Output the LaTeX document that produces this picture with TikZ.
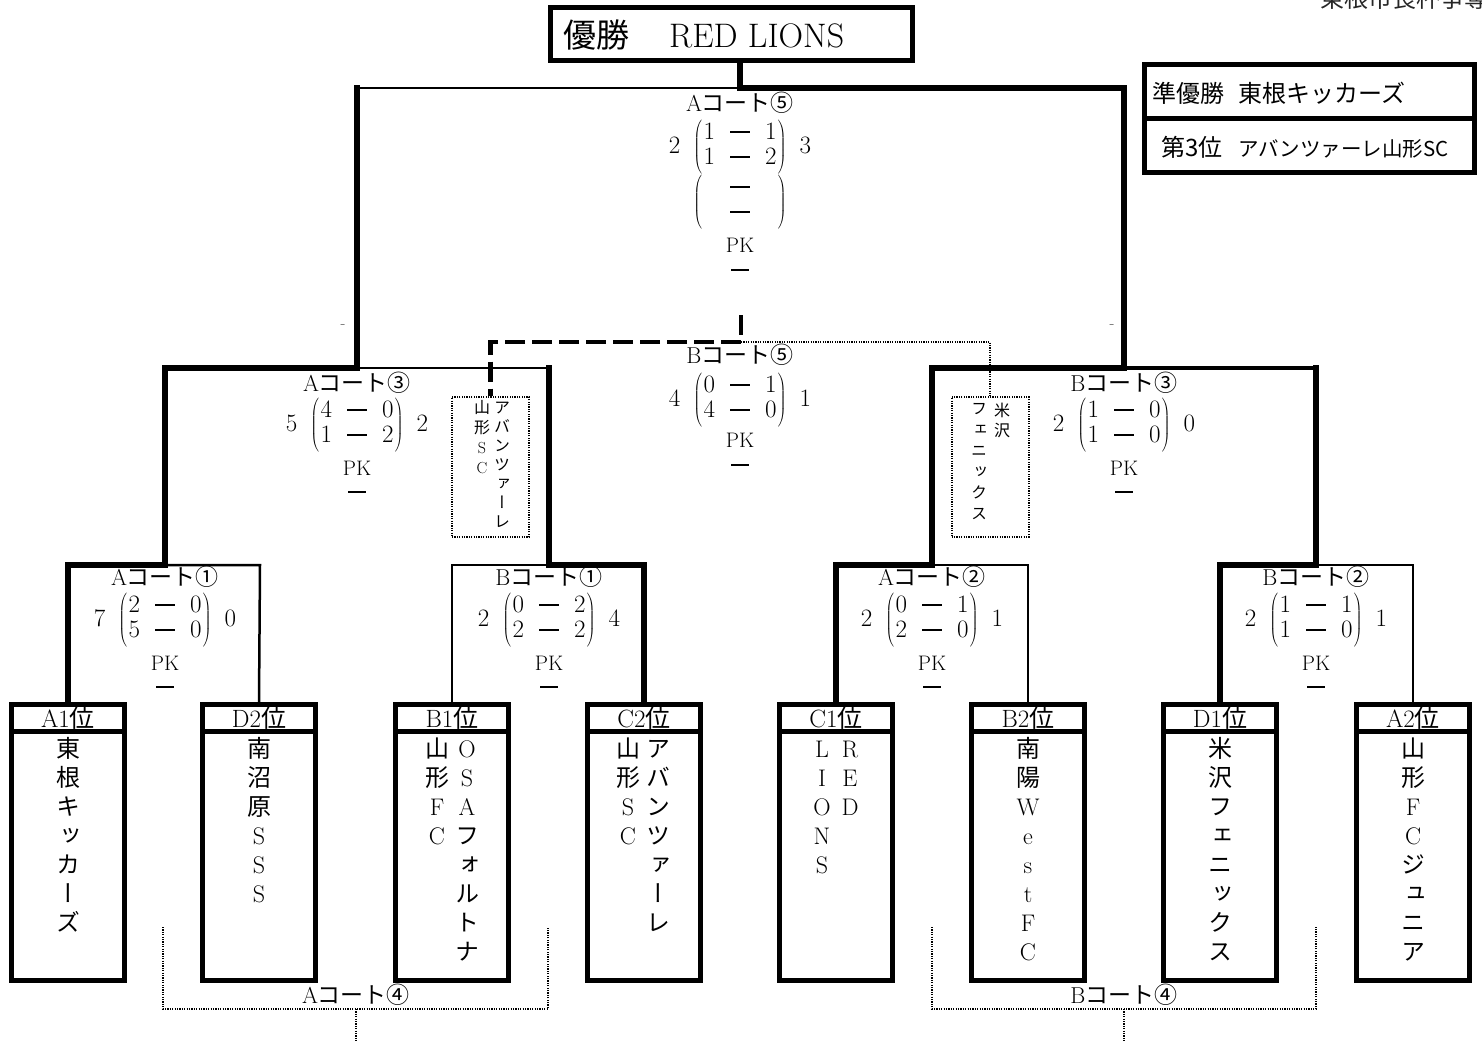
\RequirePackage{fix-cm}
\documentclass[tikz,border=0pt]{standalone}
\usepackage{fontspec}
\newfontfamily\jp{Noto Sans CJK JP}
\newfontfamily\jpv{Noto Sans CJK JP}[RawFeature=+vert]
\newcommand\lat[1]{{\rmfamily #1}}
\newcommand\dsh{\mbox{\rule[7pt]{20pt}{1.5pt}}}
\newcommand\mtx[4]{\left(\vcenter{\hbox{\rule{0pt}{54pt}}}\begin{array}{@{\hspace{1.5pt}}c@{\hspace{15pt}}c@{\hspace{15pt}}c@{\hspace{1.5pt}}}\mbox{#1}&\dsh&\mbox{#2}\\\mbox{#3}&\dsh&\mbox{#4}\end{array}\right)}
\newcommand\scoreline[6]{#1\hspace{13pt}$\mtx{#2}{#3}{#4}{#5}$\hspace{13pt}#6}
\newcommand\vcol[6]{% name, x, first baseline, step, style, list
  \foreach \ch [count=\ii] in {#6} {\node[#5,name=#1-\ii] at (#2,{#3+#4*(\ii-1)}) {\ch};}}
\tikzset{
  lnwin/.style={line width=6.5pt,line cap=rect},
  lnlose/.style={line width=2.5pt},
  lnmid/.style={line width=4.5pt},
  teamhead/.style={draw,line width=5pt,minimum width=113pt,minimum height=27pt,inner sep=0pt,font=\fontsize{25}{25}\selectfont},
  teambody/.style={draw,line width=5pt,minimum width=113pt,minimum height=249pt,inner sep=0pt},
  vch/.style={anchor=base,inner sep=0pt,font=\jpv\fontsize{24}{24}\selectfont},
  vchs/.style={anchor=base,inner sep=0pt,font=\jpv\fontsize{16}{16}\selectfont},
  court/.style={inner sep=0pt,font=\fontsize{23}{23}\selectfont},
  scorebox/.style={inner sep=0pt,font=\fontsize{25}{25}\selectfont},
  pk/.style={inner sep=0pt,font=\fontsize{21}{21}\selectfont},
  dotln/.style={line width=2pt,dash pattern=on 1.2pt off 1.2pt},
  thirdln/.style={line width=4.5pt,dash pattern=on 20pt off 7pt},
  dotbox/.style={draw,dotln,minimum width=77pt,minimum height=140pt,inner sep=0pt},
  framebox/.style={draw,line width=5pt,inner sep=0pt},
}
\newcommand\pkdash{\rule{18pt}{1.5pt}}
\begin{document}
\begin{tikzpicture}[x=1pt,y=-1pt]
\useasboundingbox (0,0) rectangle (1482,1041);

% cut-off heading at the top right
\node[anchor=base west,inner sep=0pt,font=\jp\fontsize{24}{24}\selectfont,text=black!85] (head) at (1320,8) {東根市長杯争奪戦};

% champion
\node[framebox,minimum width=362pt,minimum height=53pt] (champ) at (731,34.5) {};
\node[anchor=west,inner sep=0pt] (champtxt) at (563,35) {{\jp\fontsize{33}{33}\selectfont 優勝}\hspace{40pt}{\fontsize{34}{34}\selectfont RED LIONS}};

% runner-up / third
\node[framebox,minimum width=330pt,minimum height=53.5pt] (ru) at (1309.5,91.25) {};
\node[framebox,minimum width=330pt,minimum height=54.5pt] (third) at (1309.5,145.25) {};
\node[anchor=west,inner sep=0pt,font=\jp\fontsize{24}{24}\selectfont] (rutxt) at (1152,93) {準優勝\hspace{14pt}東根キッカーズ};
\node[anchor=west,inner sep=0pt,font=\jp\fontsize{24}{24}\selectfont] (thtxt) at (1161,147) {第3位\hspace{16pt}{\fontsize{20.5}{21}\selectfont アバンツァーレ山形SC}};

% team boxes
\foreach \nm/\x/\lab in {A1/68/A1, D2/259/D2, B1/452/B1, C2/644/C2, C1/836/C1, B2/1028/B2, D1/1220/D1, A2/1413/A2}{
  \node[teamhead] (h\nm) at (\x,718) {\lab{\jp 位}};
  \node[teambody] (b\nm) at (\x,856) {};
}
\vcol{tA1}{68}{757}{29}{vch}{東,根,キ,ッ,カ,ー,ズ}
\vcol{tD2}{259}{757}{29}{vch}{南,沼,原,\lat{S},\lat{S},\lat{S}}
\vcol{tB1l}{437}{757}{29}{vch}{山,形,\lat{F},\lat{C}}
\vcol{tB1r}{467}{757}{29}{vch}{\lat{O},\lat{S},\lat{A},フ,ォ,ル,ト,ナ}
\vcol{tC2l}{628}{757}{29}{vch}{山,形,\lat{S},\lat{C}}
\vcol{tC2r}{658}{757}{29}{vch}{ア,バ,ン,ツ,ァ,ー,レ}
\vcol{tC1l}{822}{757}{29}{vch}{\lat{L},\lat{I},\lat{O},\lat{N},\lat{S}}
\vcol{tC1r}{850}{757}{29}{vch}{\lat{R},\lat{E},\lat{D}}
\vcol{tB2}{1028}{757}{29}{vch}{南,陽,\lat{W},\lat{e},\lat{s},\lat{t},\lat{F},\lat{C}}
\vcol{tD1}{1220}{757}{29}{vch}{米,沢,フ,ェ,ニ,ッ,ク,ス}
\vcol{tA2}{1413}{757}{29}{vch}{山,形,\lat{F},\lat{C},ジ,ュ,ニ,ア}

% loser boxes for 3rd place
\node[dotbox] (lbox) at (490.5,467) {};
\node[dotbox] (rbox) at (990,467) {};
\vcol{lbr}{502}{413}{19}{vchs}{ア,バ,ン,ツ,ァ,ー,レ}
\vcol{lbl}{482}{413}{20}{vchs}{山,形,\lat{S},\lat{C}}
\vcol{rbr}{1002}{416}{20}{vchs}{米,沢}
\vcol{rbl}{979}{414}{21}{vchs}{フ,ェ,ニ,ッ,ク,ス}

% junction coordinates
\coordinate (stem) at (740,61);
\coordinate (f) at (740,88);
\coordinate (fL) at (357,88);
\coordinate (fR) at (1124,88);
\coordinate (sL) at (357,368);
\coordinate (sLa) at (165,368);
\coordinate (sLb) at (549,368);
\coordinate (sR) at (1124,368);
\coordinate (sRa) at (932,368);
\coordinate (sRb) at (1316,368);
\coordinate (q1) at (165,565);
\coordinate (q1a) at (68,565);
\coordinate (q1b) at (260,565);
\coordinate (q2) at (549,565);
\coordinate (q2a) at (452,565);
\coordinate (q2b) at (644,565);
\coordinate (q3) at (932,565);
\coordinate (q3a) at (836,565);
\coordinate (q3b) at (1028,565);
\coordinate (q4) at (1316,565);
\coordinate (q4a) at (1220,565);
\coordinate (q4b) at (1413,565);

% bracket lines
\draw[lnlose] (f) -- (fL);
\draw[lnwin] (stem) -- (f) -- (fR) -- (sR);
\draw[lnwin] (fL) -- (sL);
\draw[lnlose] (sL) -- (sLb);
\draw[lnwin] (sL) -- (sLa) -- (q1);
\draw[lnwin] (sLb) -- (q2);
\draw[lnlose] (q1) -- (q1b) -- (hD2.north);
\draw[lnwin] (q1) -- (q1a) -- (hA1.north);
\draw[lnlose] (q2) -- (q2a) -- (hB1.north);
\draw[lnwin] (q2) -- (q2b) -- (hC2.north);
\draw[lnmid] (sR) -- (sRb);
\draw[lnwin] (sR) -- (sRa) -- (q3);
\draw[lnwin] (sRb) -- (q4);
\draw[lnlose] (q3) -- (q3b) -- (hB2.north);
\draw[lnwin] (q3) -- (q3a) -- (hC1.north);
\draw[lnlose] (q4) -- (q4b) -- (hA2.north);
\draw[lnwin] (q4) -- (q4a) -- (hD1.north);

% third place connectors
\coordinate (tp) at (741,315);
\coordinate (tpc) at (741,342);
\coordinate (tpl) at (490.5,342);
\coordinate (tpr) at (990,342);
\draw[dotln] (tpc) -- (tpr) -- (rbox.north);
\draw[thirdln] (tp) -- (tpc) -- (tpl) -- (lbox.north);

% court 4 brackets
\coordinate (a4l) at (163,927);
\coordinate (a4lb) at (163,1009);
\coordinate (a4rb) at (548,1009);
\coordinate (a4r) at (548,927);
\coordinate (a4m) at (356,1009);
\coordinate (a4s) at (356,1041);
\draw[dotln] (a4l) -- (a4lb) -- (a4rb) -- (a4r);
\draw[dotln] (a4m) -- (a4s);
\coordinate (b4l) at (932,927);
\coordinate (b4lb) at (932,1009);
\coordinate (b4rb) at (1316,1009);
\coordinate (b4r) at (1316,927);
\coordinate (b4m) at (1124,1009);
\coordinate (b4s) at (1124,1041);
\draw[dotln] (b4l) -- (b4lb) -- (b4rb) -- (b4r);
\draw[dotln] (b4m) -- (b4s);
\node[court] (lab-a4) at (356,995) {A{\jp コート④}};
\node[court] (lab-b4) at (1124,995) {B{\jp コート④}};

% final A5
\node[court] (lab-a5) at (740,103) {A{\jp コート⑤}};
\node[scorebox] (sc-a5) at (740,147) {\scoreline{2}{1}{1}{1}{2}{3}};
\node[scorebox] (sc-a5x) at (740,202) {\phantom{2}\hspace{13pt}$\mtx{\phantom{1}}{\phantom{1}}{\phantom{1}}{\phantom{1}}$\hspace{13pt}\phantom{3}};
\node[pk] (pk-a5) at (740,245) {PK};
\node[inner sep=0pt] (d-a5) at (740,270) {\pkdash};

% third place B5
\node[court] (lab-b5) at (740,355) {B{\jp コート⑤}};
\node[scorebox] (sc-b5) at (740,400) {\scoreline{4}{0}{1}{4}{0}{1}};
\node[pk] (pk-b5) at (740,440) {PK};
\node[inner sep=0pt] (d-b5) at (740,465) {\pkdash};

% semifinals
\foreach \nm/\x/\cl/\n/\L/\a/\b/\c/\d/\R in {a3/357/A/③/5/4/0/1/2/2, b3/1124/B/③/2/1/0/1/0/0}{
  \node[court] (lab-\nm) at (\x,383) {\cl{\jp コート\n}};
  \node[scorebox] (sc-\nm) at (\x,425) {\scoreline{\L}{\a}{\b}{\c}{\d}{\R}};
  \node[pk] (pk-\nm) at (\x,468) {PK};
  \node[inner sep=0pt] (d-\nm) at (\x,492) {\pkdash};
}
% quarterfinals
\foreach \nm/\x/\cl/\n/\L/\a/\b/\c/\d/\R in {a1/165/A/①/7/2/0/5/0/0, b1/549/B/①/2/0/2/2/2/4, a2/932/A/②/2/0/1/2/0/1, b2/1316/B/②/2/1/1/1/0/1}{
  \node[court] (lab-\nm) at (\x,577) {\cl{\jp コート\n}};
  \node[scorebox] (sc-\nm) at (\x,620) {\scoreline{\L}{\a}{\b}{\c}{\d}{\R}};
  \node[pk] (pk-\nm) at (\x,663) {PK};
  \node[inner sep=0pt] (d-\nm) at (\x,687) {\pkdash};
}

% small marks
\node[inner sep=0pt,text=black!70,font=\fontsize{16}{16}\selectfont] (m1) at (343,327) {-};
\node[inner sep=0pt,text=black!70,font=\fontsize{16}{16}\selectfont] (m2) at (1112,327) {-};
\end{tikzpicture}
\end{document}
